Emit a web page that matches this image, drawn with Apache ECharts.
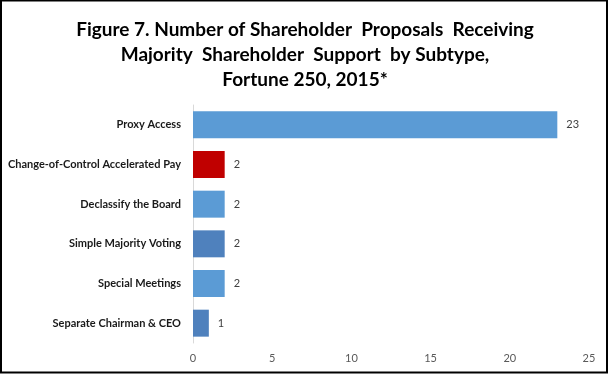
<!DOCTYPE html>
<html><head><meta charset="utf-8">
<script src="https://cdn.jsdelivr.net/npm/echarts@6/dist/echarts.min.js"></script>
<style>html,body{margin:0;padding:0;background:#fff}#c{width:610px;height:375px}</style>
</head><body><div id="c"></div>
<script>
const categories = ["Proxy Access","Change-of-Control Accelerated Pay","Declassify the Board","Simple Majority Voting","Special Meetings","Separate Chairman & CEO"];
const values = [23,2,2,2,2,1];
const barColors = ["#5B9BD5","#C00000","#5B9BD5","#4F81BD","#5B9BD5","#4F81BD"];
const xTicks = [0,5,10,15,20,25];
const titleLines = ["Figure 7. Number of Shareholder  Proposals  Receiving","Majority  Shareholder  Support  by Subtype,","Fortune 250, 2015*"];

const chart = echarts.init(document.getElementById('c'));
chart.setOption({
  animation:false,
  title:{text:titleLines.join('\n'),left:'center',top:12,
    textStyle:{fontFamily:'Lato',fontWeight:'bold',fontSize:19,lineHeight:25,color:'#000'}},
  grid:{left:193,right:21,top:105,bottom:32,containLabel:false},
  xAxis:{type:'value',min:xTicks[0],max:xTicks[xTicks.length-1],interval:5,
    axisLine:{show:false},axisTick:{show:false},splitLine:{show:false},
    axisLabel:{color:'#595959',fontFamily:'Lato',fontSize:11,margin:10}},
  yAxis:{type:'category',inverse:true,data:categories,
    axisLine:{show:true,lineStyle:{color:'#D9D9D9',width:1}},axisTick:{show:false},
    axisLabel:{color:'#1a1a1a',fontFamily:'Lato',fontWeight:'bold',fontSize:11,margin:12}},
  series:[{type:'bar',barCategoryGap:'32%',
    data:values.map((v,i)=>({value:v,itemStyle:{color:barColors[i]}})),
    label:{show:true,position:'right',distance:9,color:'#404040',fontFamily:'Lato',fontSize:11}}],
  graphic:[{type:'rect',shape:{x:1,y:0.5,width:606,height:372},style:{fill:'none',stroke:'#000',lineWidth:2},z:100}]
});
</script></body></html>
